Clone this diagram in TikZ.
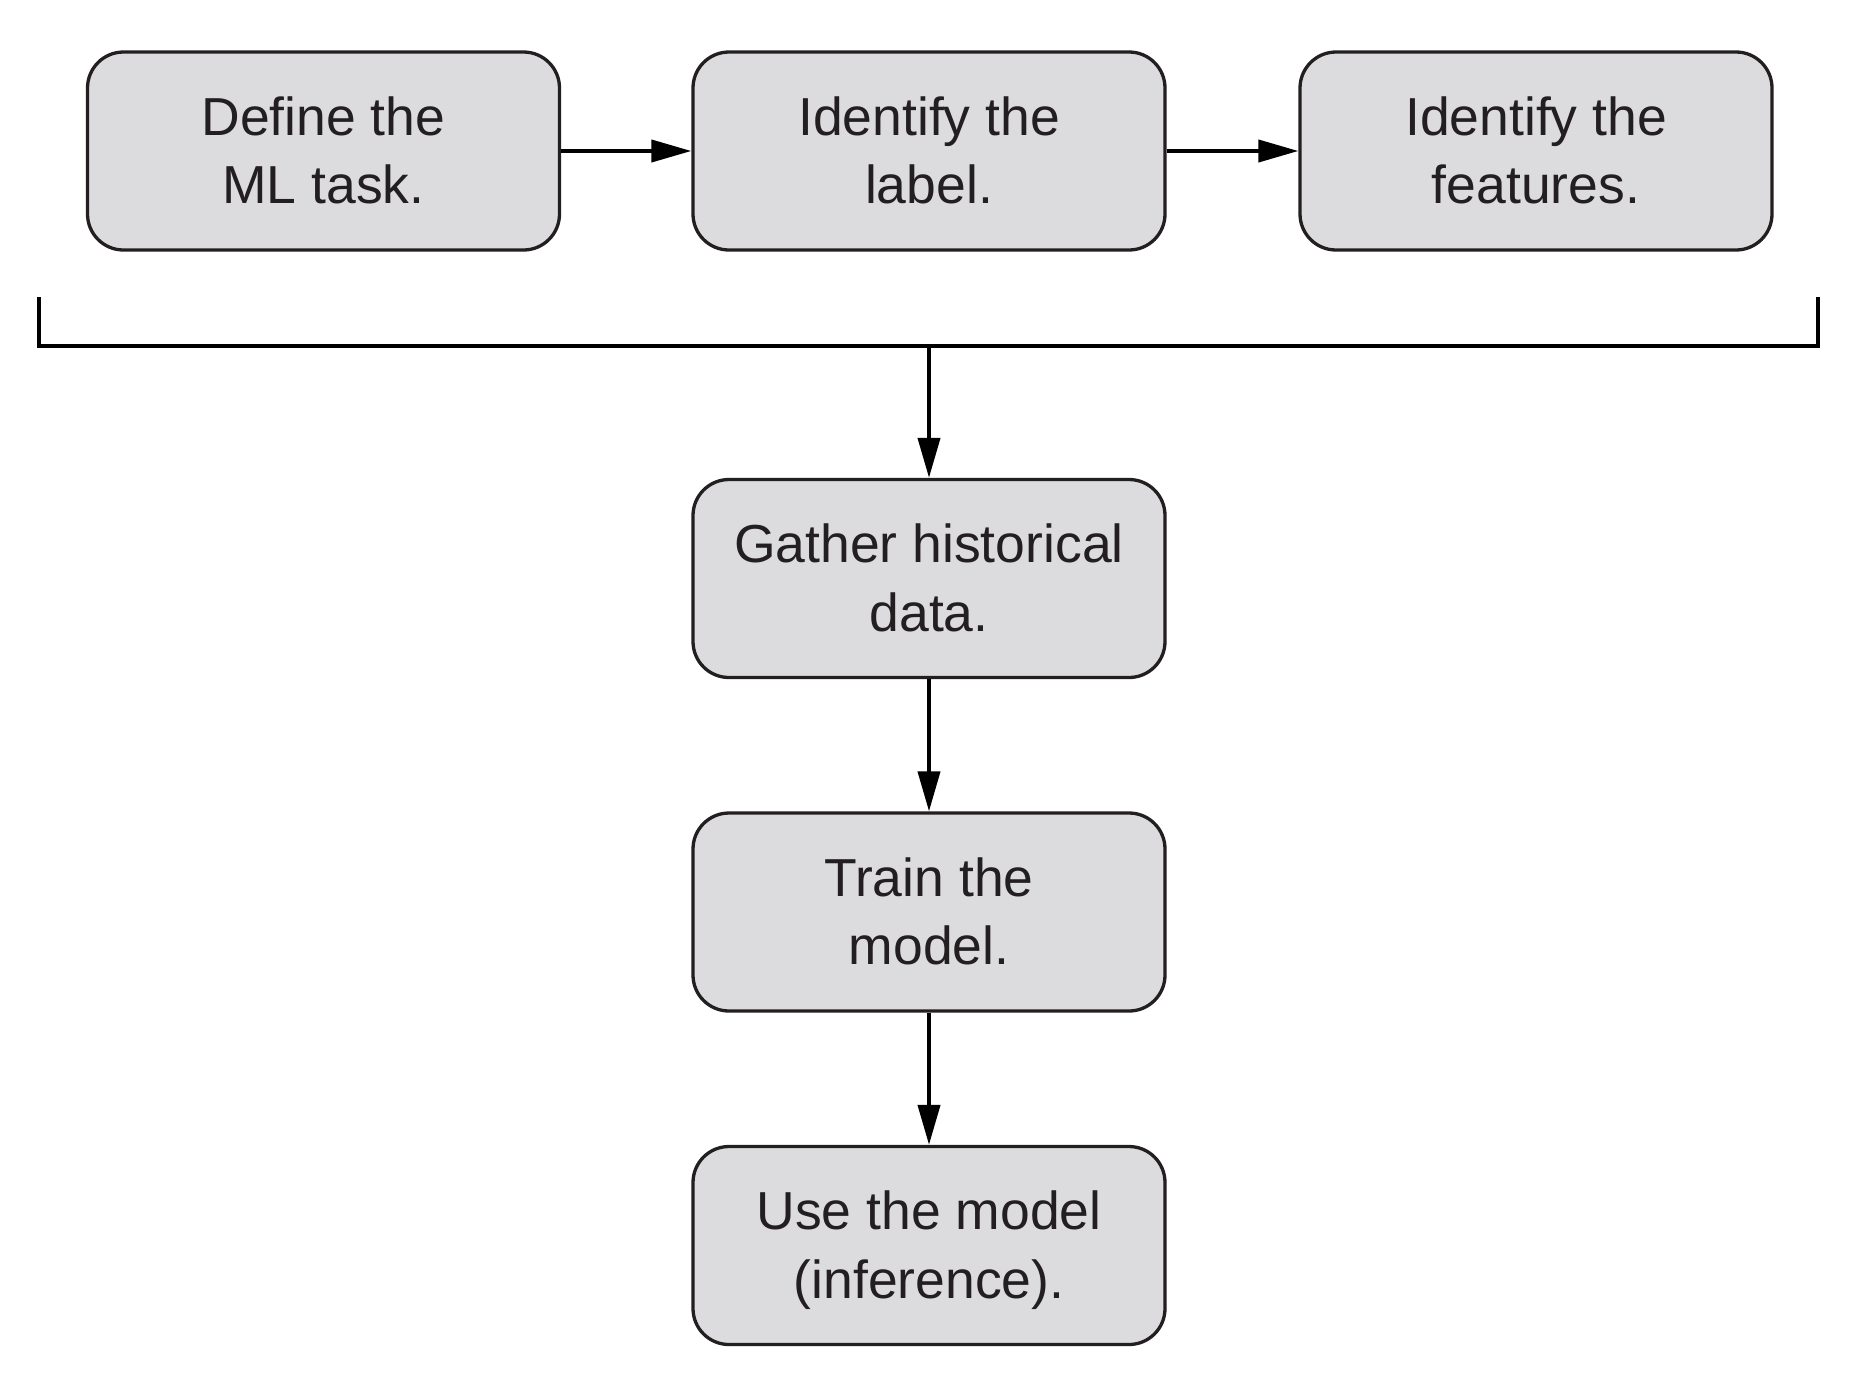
\documentclass[tikz,border=0pt]{standalone}
\usepackage{fontspec}
\setmainfont{Liberation Sans}
\usetikzlibrary{arrows.meta}
\definecolor{boxfill}{RGB}{220,220,222}
\definecolor{boxline}{RGB}{35,31,32}
\begin{document}
\begin{tikzpicture}[x=1pt,y=-1pt,
  stepbox/.style={draw=boxline, fill=boxfill, line width=3.3pt,
    rounded corners=36pt, minimum width=472pt, minimum height=198pt,
    inner sep=0pt, align=center, text=boxline,
    font=\fontsize{53.5}{68.5}\selectfont,
    text height=117pt, text depth=12pt},
  flow/.style={line width=4pt, draw=black, -{Triangle[length=40pt,width=22pt]}},
  bracketline/.style={line width=4pt, draw=black, line join=miter}
]
\useasboundingbox (0,0) rectangle (1855,1398);

\node[stepbox] (task)     at (323.5,151)  {Define the\\ML task.};
\node[stepbox] (label)    at (929,151)    {Identify the\\label.};
\node[stepbox] (features) at (1536,151)   {Identify the\\features.};
\node[stepbox] (gather)   at (929,578.5)  {Gather historical\\data.};
\node[stepbox] (train)    at (929,912)    {Train the\\model.};
\node[stepbox] (use)      at (929,1245.5) {Use the model\\(inference).};

\draw[flow] (task.east) -- (label.west);
\draw[flow] (label.east) -- (features.west);

\coordinate (bl) at (39,297);
\coordinate (br) at (1818,297);
\coordinate (bm) at (929,346);
\draw[bracketline] (bl) -- (bl |- bm) -- (br |- bm) -- (br);

\draw[flow] (bm) -- (gather.north);
\draw[flow] (gather.south) -- (train.north);
\draw[flow] (train.south) -- (use.north);
\end{tikzpicture}
\end{document}
